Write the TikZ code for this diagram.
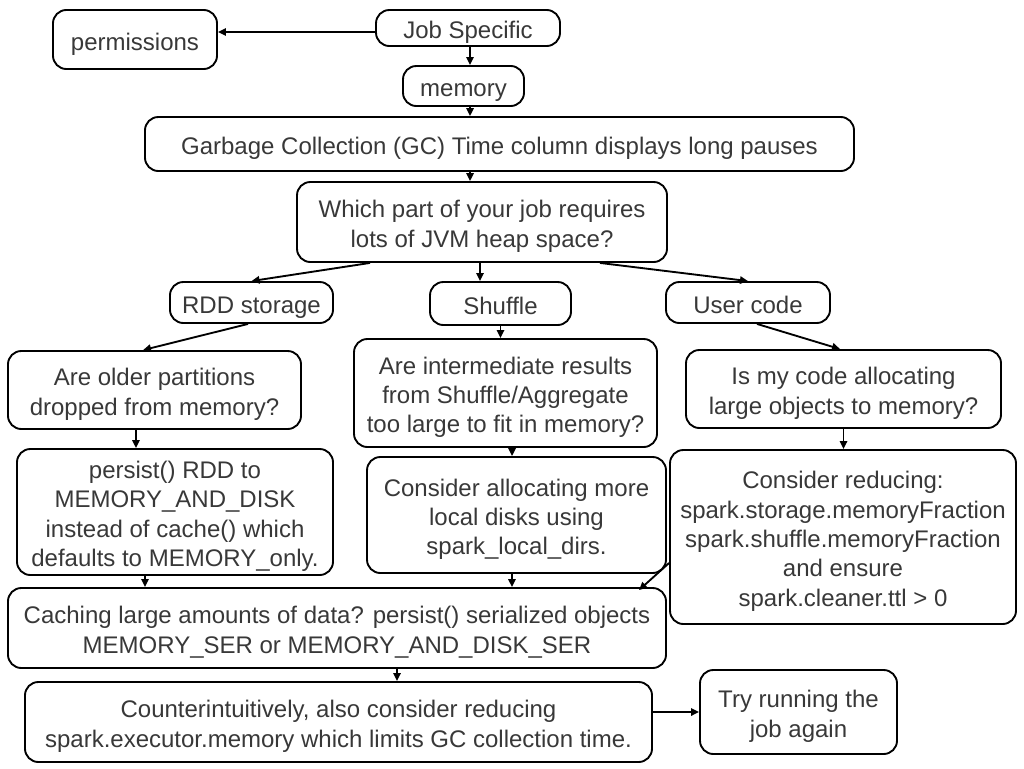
\documentclass[tikz,border=0pt]{standalone}
\usepackage{fontspec}
\setmainfont{Liberation Sans}
\usetikzlibrary{arrows.meta}
\newcommand\boxtext[1]{\raisebox{-3.5pt}[\height][\depth]{\begin{tabular}{@{}c@{}}#1\end{tabular}}}
\begin{document}
\begin{tikzpicture}[x=0.75pt,y=-0.75pt,
  box/.style={draw, rounded corners=10pt, line width=1.4pt, align=center, inner sep=0pt,
    text=black!78, font=\fontsize{18}{22}\selectfont},
  conn/.style={line width=1.4pt, -{Triangle[length=6pt,width=5.5pt]}}]
\useasboundingbox (0,0) rectangle (1024,768);
\node[box, minimum width=123pt, minimum height=44.25pt] (perm) at (135,39.5) {\boxtext{permissions}};
\node[box, minimum width=138pt, minimum height=27pt] (job) at (468,28) {\boxtext{Job Specific}};
\node[box, minimum width=90.75pt, minimum height=30pt] (mem) at (463.5,86) {\boxtext{memory}};
\node[box, minimum width=531.75pt, minimum height=40.5pt] (gc) at (499.5,144) {\boxtext{Garbage Collection (GC) Time column displays long pauses}};
\node[box, minimum width=277.5pt, minimum height=60pt] (which) at (482,222) {\boxtext{Which part of your job requires\\lots of JVM heap space?}};
\node[box, minimum width=122.25pt, minimum height=30.75pt] (rdd) at (251.5,302.5) {\boxtext{RDD storage}};
\node[box, minimum width=105.75pt, minimum height=32.25pt] (shuffle) at (500.5,303.5) {\boxtext{Shuffle}};
\node[box, minimum width=123pt, minimum height=30.75pt] (user) at (748,302.5) {\boxtext{User code}};
\node[box, minimum width=219.75pt, minimum height=58.5pt] (older) at (154.5,390) {\boxtext{Are older partitions\\dropped from memory?}};
\node[box, minimum width=227.25pt, minimum height=81pt] (inter) at (505.5,393) {\boxtext{Are intermediate results\\from Shuffle/Aggregate\\too large to fit in memory?}};
\node[box, minimum width=236.25pt, minimum height=58.5pt] (mycode) at (843.5,389) {\boxtext{Is my code allocating\\large objects to memory?}};
\node[box, minimum width=237pt, minimum height=94.5pt] (persist) at (175,512) {\boxtext{persist() RDD to\\MEMORY\_AND\_DISK\\instead of cache() which\\defaults to MEMORY\_only.}};
\node[box, minimum width=224.25pt, minimum height=87pt] (alloc) at (516.5,515) {\boxtext{Consider allocating more\\local disks using\\spark\_local\_dirs.}};
\node[box, minimum width=259.5pt, minimum height=130.5pt] (reduce) at (843,537) {\boxtext{Consider reducing:\\spark.storage.memoryFraction\\spark.shuffle.memoryFraction\\and ensure\\spark.cleaner.ttl > 0}};
\node[box, minimum width=493.5pt, minimum height=60pt] (caching) at (337,628) {\boxtext{Caching large amounts of data? persist() serialized objects\\MEMORY\_SER or MEMORY\_AND\_DISK\_SER}};
\node[box, minimum width=470.25pt, minimum height=60pt] (counter) at (338.5,722) {\boxtext{Counterintuitively, also consider reducing\\spark.executor.memory which limits GC collection time.}};
\node[box, minimum width=147.75pt, minimum height=63pt] (try) at (798.5,712) {\boxtext{Try running the\\job again}};
% connectors
\draw[conn] ([yshift=-3pt]job.west) -- ([yshift=-3pt]job.west -| perm.east);
\draw[conn] ([xshift=1.5pt]job.south) -- ([xshift=1.5pt]job.south |- mem.north);
\draw[conn] ([xshift=4.9pt]mem.south) -- ([xshift=4.9pt]mem.south |- gc.north);
\draw[conn] ([xshift=-22.1pt]gc.south) -- ([xshift=-22.1pt]gc.south |- which.north);
\draw[conn] ([xshift=-84pt]which.south) -- (rdd.north);
\draw[conn] ([xshift=-1.5pt]which.south) -- ([xshift=-1.5pt]which.south |- shuffle.north);
\draw[conn] ([xshift=88.5pt]which.south) -- (user.north);
\draw[conn] ([xshift=-2.6pt]rdd.south) -- ([xshift=-8.6pt]older.north);
\draw[conn] (shuffle.south) -- (shuffle.south |- inter.north);
\draw[conn] ([xshift=6.75pt]user.south) -- ([xshift=-2.6pt]mycode.north);
\draw[conn] ([xshift=-13.9pt]older.south) -- ([xshift=-13.9pt]older.south |- persist.north);
\draw[conn] ([xshift=4.9pt]inter.south) -- ([xshift=4.9pt]inter.south |- alloc.north);
\draw[conn] (mycode.south) -- (mycode.south |- reduce.north);
\draw[conn] ([xshift=-22.5pt]persist.south) -- ([xshift=-22.5pt]persist.south |- caching.north);
\draw[conn] ([xshift=-3.4pt]alloc.south) -- ([xshift=-3.4pt]alloc.south |- caching.north);
\draw[conn] ([yshift=-19.5pt]reduce.west) -- ([xshift=226.5pt,yshift=-2.25pt]caching.north);
\draw[conn] ([xshift=45pt]caching.south) -- ([xshift=45pt]caching.south |- counter.north);
\draw[conn] (counter.east |- try.west) -- (try.west);
\end{tikzpicture}
\end{document}
